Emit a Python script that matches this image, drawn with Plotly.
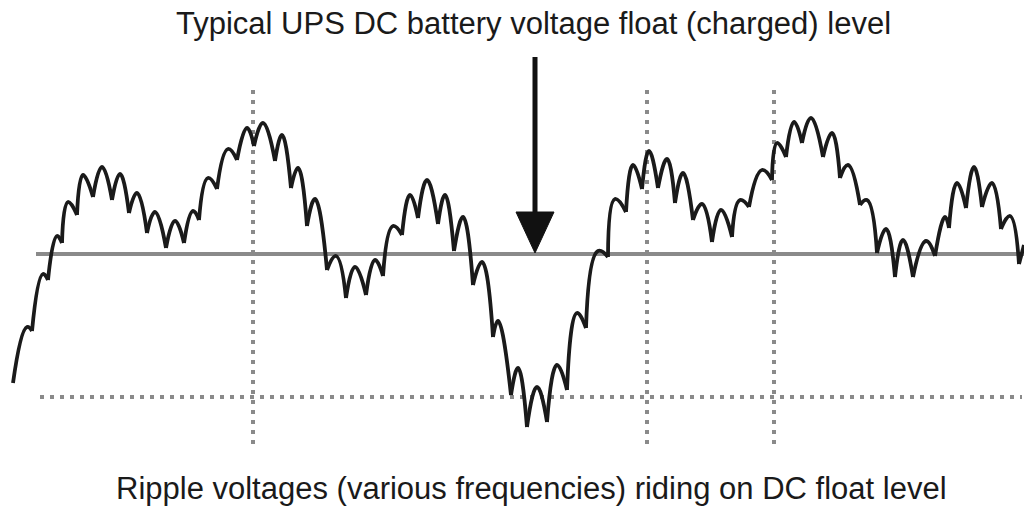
import plotly.graph_objects as go

# Waveform: x = time (arbitrary units), v = voltage above DC float level (arbitrary units)
cusp_x = [13, 32, 48, 62, 77, 93, 112, 129, 147, 166, 184, 199, 217, 237, 254, 275, 291, 307, 327, 346,
          366, 383, 402, 418, 438, 454, 473, 493, 511, 527, 547, 567, 586, 608, 626, 642, 658, 675, 693, 712,
          732, 749, 772, 786, 802, 823, 840, 860, 877, 895, 913, 935, 949, 966, 982, 1001, 1019]
cusp_py = [383, 331, 280, 243, 215, 197, 200, 213, 233, 248, 243, 220, 189, 160, 146, 161, 188, 226, 270, 298,
           295, 276, 235, 218, 224, 251, 285, 337, 395, 427, 422, 390, 328, 257, 212, 189, 188, 203, 220, 242,
           237, 207, 180, 157, 143, 157, 178, 205, 253, 277, 277, 256, 228, 208, 207, 229, 264]
peak_x = [27, 43, 57, 68, 83, 102, 120, 137, 155, 175, 193, 208, 228, 247, 263, 282, 298, 315, 336, 355,
          375, 393, 410, 427, 445, 463, 482, 498, 518, 537, 557, 577, 598, 615, 633, 649, 667, 683, 702, 721,
          740, 762, 777, 794, 811, 832, 848, 867, 886, 903, 926, 945, 957, 974, 992, 1010]
peak_py = [327, 274, 236, 202, 175, 167, 174, 193, 212, 221, 211, 178, 149, 128, 123, 135, 168, 199, 256, 267,
           260, 226, 195, 180, 195, 217, 262, 321, 368, 387, 365, 313, 251, 199, 165, 151, 159, 173, 204, 210,
           200, 170, 143, 122, 118, 133, 165, 200, 229, 240, 241, 217, 183, 167, 183, 216]
tail_x, tail_py = 1024, 245

FLOAT_REF = 254  # float level on the source's vertical scale
cusp_v = [FLOAT_REF - p for p in cusp_py]
peak_v = [FLOAT_REF - p for p in peak_py]
tail_v = FLOAT_REF - tail_py

title_text = "Typical UPS DC battery voltage float (charged) level"
bottom_text = "Ripple voltages (various frequencies) riding on DC float level"
grid_x = [253, 647, 774]
min_level = FLOAT_REF - 397

xs, ys = [], []
for i in range(len(peak_x)):
    xs += [cusp_x[i], peak_x[i], cusp_x[i + 1], None]
    ys += [cusp_v[i], peak_v[i], cusp_v[i + 1], None]
xs += [cusp_x[-1], tail_x]
ys += [cusp_v[-1], tail_v]

fig = go.Figure()
fig.add_trace(go.Scatter(x=xs, y=ys, mode="lines", connectgaps=False,
                         line=dict(color="#1a1a1a", width=3.8, shape="spline", smoothing=1.3),
                         hoverinfo="skip", showlegend=False))

GRAY = "#8a8a8a"
DOT = "4px,6px"
shapes = []
# float level line
shapes.append(dict(type="line", x0=36, x1=1024, y0=0, y1=0, line=dict(color=GRAY, width=4), layer="below"))
# minimum level dotted line
shapes.append(dict(type="line", x0=40, x1=1022, y0=min_level, y1=min_level,
                   line=dict(color=GRAY, width=4, dash=DOT), layer="below"))
for gx in grid_x:
    shapes.append(dict(type="line", x0=gx, x1=gx, y0=FLOAT_REF - 90, y1=FLOAT_REF - 444,
                       line=dict(color=GRAY, width=4, dash=DOT), layer="below"))
# arrow
shapes.append(dict(type="line", x0=535, x1=535, y0=FLOAT_REF - 57, y1=FLOAT_REF - 215,
                   line=dict(color="#111111", width=5)))
shapes.append(dict(type="path",
                   path=f"M 516 {FLOAT_REF-212} L 554 {FLOAT_REF-212} L 535 {FLOAT_REF-253} Z",
                   fillcolor="#111111", line=dict(color="#111111", width=1)))

FONT = "Liberation Sans, Arial, sans-serif"
fig.update_layout(
    width=1024, height=506,
    margin=dict(l=0, r=0, t=0, b=0),
    paper_bgcolor="white", plot_bgcolor="white",
    xaxis=dict(range=[0, 1024], visible=False, fixedrange=True),
    yaxis=dict(range=[FLOAT_REF - 506, FLOAT_REF], visible=False, fixedrange=True),
    shapes=shapes,
    annotations=[
        dict(text=title_text, x=533, y=FLOAT_REF - 23, xref="x", yref="y", showarrow=False,
             font=dict(family=FONT, size=31, color="#1a1a1a")),
        dict(text=bottom_text, x=531, y=FLOAT_REF - 488, xref="x", yref="y", showarrow=False,
             font=dict(family=FONT, size=31, color="#1a1a1a")),
    ],
)

fig.write_html("out.html", config={"displayModeBar": False},
               post_script="document.body.style.margin='0';document.body.style.overflow='hidden';")
